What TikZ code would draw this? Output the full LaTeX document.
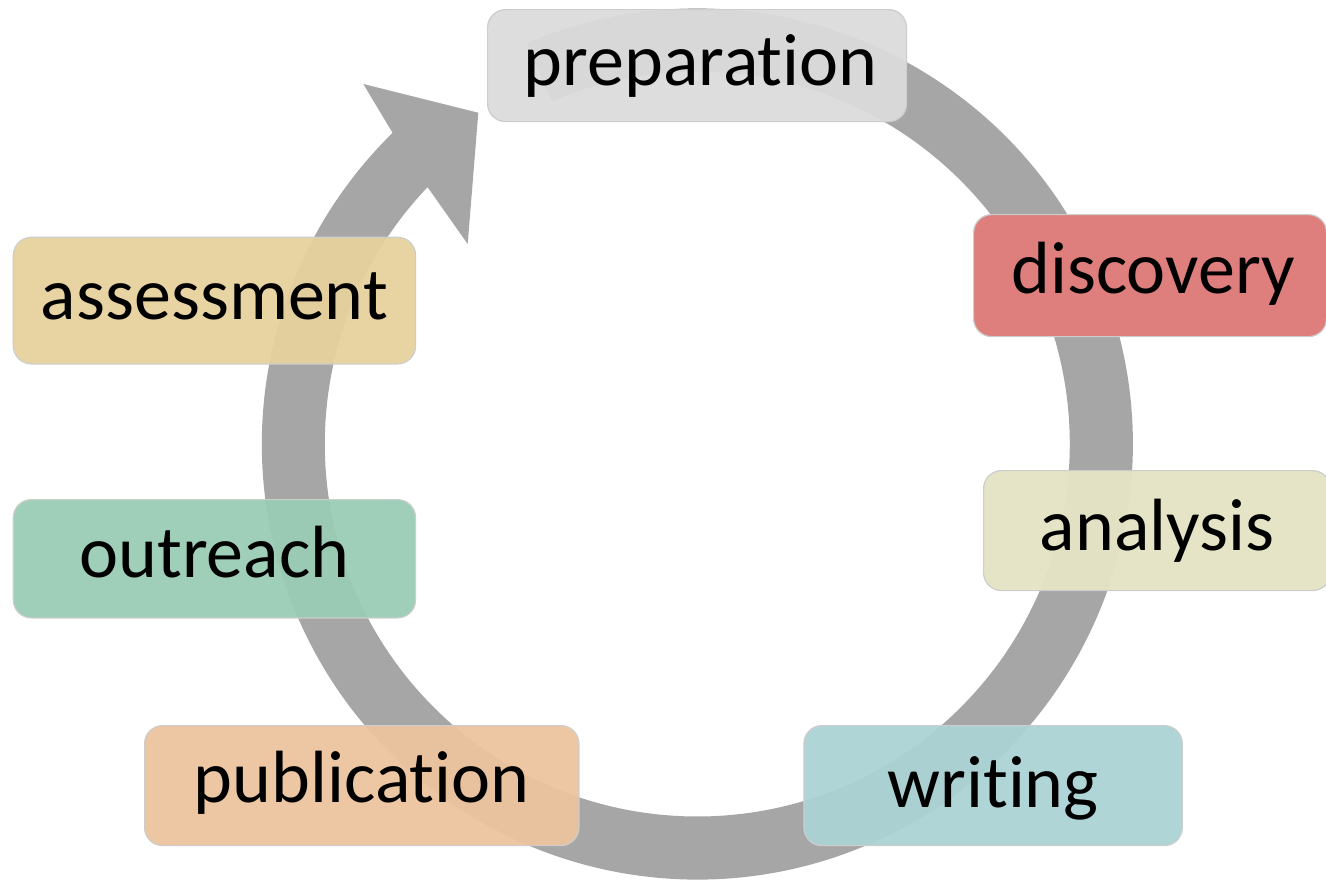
\documentclass[tikz,border=0pt]{standalone}
\usepackage{fontspec}
\setmainfont{Carlito}[Ligatures=NoCommon]
\definecolor{ringgray}{RGB}{166,166,166}
\definecolor{cprep}{RGB}{219,219,219}
\definecolor{cdisc}{RGB}{222,127,126}
\definecolor{cana}{RGB}{228,227,196}
\definecolor{cass}{RGB}{231,210,158}
\definecolor{cout}{RGB}{155,204,181}
\definecolor{cpub}{RGB}{236,195,158}
\definecolor{cwri}{RGB}{172,211,212}
\definecolor{cborder}{RGB}{205,205,205}
\begin{document}
\begin{tikzpicture}[x=1pt,y=-1pt,
  stagebox/.style={draw=cborder, line width=1.2pt, rounded corners=18pt,
    fill opacity=0.95, text opacity=1, inner sep=0pt, anchor=north west,
    font=\fontsize{74}{80}\selectfont, text=black}]
\useasboundingbox (0,0) rectangle (1326,879);
\clip (0,0) rectangle (1326,879);
% ring with arrowhead
\begin{scope}[shift={(697.3,444)}, yscale=-1]
  \coordinate (c1) at (-225.6:435.5);
  \coordinate (barbA) at (-334,360);
  \coordinate (tip) at (-219,331.3);
  \coordinate (barbB) at (-229.6,200);
  \coordinate (c2) at (-223.6:372.5);
  \fill[ringgray] (113:435.5) arc[start angle=113, end angle=-225.6, radius=435.5]
    -- (barbA) -- (tip) -- (barbB) -- (c2)
    arc[start angle=-223.6, end angle=113, radius=372.5] -- cycle;
\end{scope}
% boxes
\node[stagebox, fill=cprep, minimum width=419pt, text height=76pt, text depth=36pt]
  (prep) at (487,9) {\hspace{7pt}preparation};
\node[stagebox, fill=cdisc, fill opacity=1, minimum width=353pt, text height=79.3pt, text depth=42.7pt]
  (disc) at (973,214) {\hspace{6pt}discovery};
\node[stagebox, fill=cana, fill opacity=0.97, minimum width=347pt, text height=80pt, text depth=40pt]
  (ana) at (983,470) {analysis};
\node[stagebox, fill=cass, minimum width=402.3pt, text height=82.6pt, text depth=44pt]
  (ass) at (12.7,236.7) {assessment};
\node[stagebox, fill=cout, minimum width=402.3pt, text height=77.7pt, text depth=40.6pt]
  (out) at (12.7,499) {outreach\hspace{22.6pt}};
\node[stagebox, fill=cpub, minimum width=434.3pt, text height=76.7pt, text depth=43.3pt]
  (pub) at (144,725) {publication};
\node[stagebox, fill=cwri, minimum width=378.4pt, text height=81.7pt, text depth=38.3pt]
  (wri) at (803.3,725) {writing};
\end{tikzpicture}
\end{document}
